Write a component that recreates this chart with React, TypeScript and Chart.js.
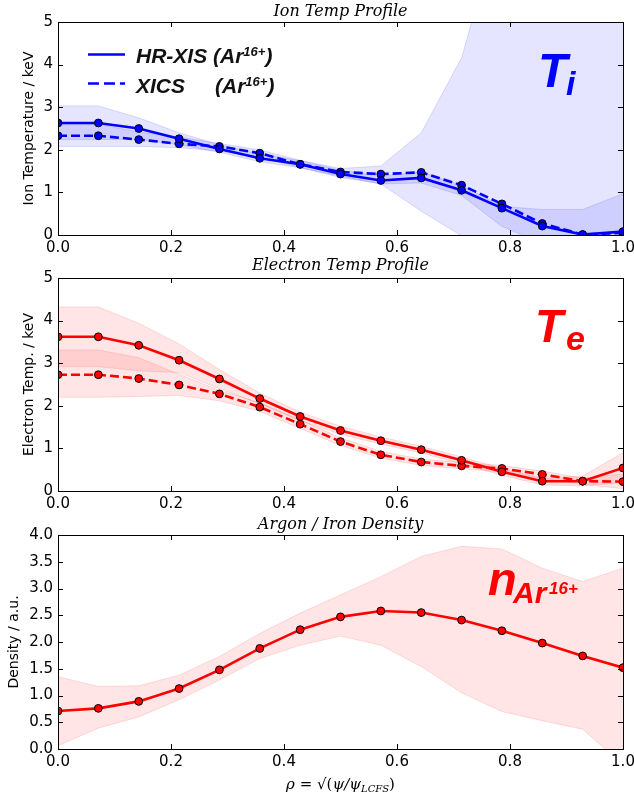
import React, { useEffect, useRef } from 'react';
import { Chart, registerables } from 'chart.js';

Chart.register(...registerables);

// ---------------- data ----------------
const rho = [0.0, 0.0714, 0.1429, 0.2143, 0.2857, 0.3571, 0.4286, 0.5, 0.5714, 0.6429, 0.7143, 0.7857, 0.8571, 0.9286, 1.0];

const tiHrxis = [2.63, 2.63, 2.50, 2.26, 2.02, 1.80, 1.66, 1.43, 1.28, 1.34, 1.05, 0.63, 0.21, 0.01, 0.08];
const tiXics = [2.33, 2.33, 2.24, 2.14, 2.08, 1.92, 1.66, 1.48, 1.43, 1.47, 1.17, 0.73, 0.27, 0.01, 0.05];
const tiHrUpper = [3.03, 3.03, 2.75, 2.40, 2.12, 1.90, 1.75, 1.52, 1.38, 1.48, 1.17, 0.67, 0.60, 0.60, 0.97];
const tiHrLower = [2.24, 2.24, 2.25, 2.12, 1.94, 1.72, 1.58, 1.35, 1.20, 1.22, 0.93, 0.20, -0.20, -0.50, -0.80];
const tiXcUpper = [2.60, 2.60, 2.42, 2.30, 2.15, 2.00, 1.75, 1.56, 1.62, 2.40, 4.16, 7.50, 9.00, 9.00, 9.00];
const tiXcLower = [2.08, 2.08, 2.08, 2.05, 1.97, 1.83, 1.58, 1.38, 1.20, 0.56, -0.02, -0.60, -1.00, -1.00, -1.00];

const teHrxis = [3.62, 3.62, 3.42, 3.07, 2.63, 2.17, 1.75, 1.42, 1.18, 0.97, 0.72, 0.45, 0.23, 0.23, 0.54];
const teXics = [2.73, 2.73, 2.64, 2.49, 2.28, 1.97, 1.57, 1.16, 0.85, 0.68, 0.59, 0.53, 0.39, 0.23, 0.22];
const teHrUpper = [4.32, 4.32, 3.94, 3.45, 2.85, 2.30, 1.85, 1.52, 1.27, 1.05, 0.80, 0.53, 0.30, 0.35, 0.90];
const teHrLower = [2.92, 2.92, 2.82, 2.78, 2.40, 2.05, 1.65, 1.33, 1.10, 0.89, 0.64, 0.37, 0.14, 0.12, 0.20];
const teXcUpper = [3.31, 3.31, 3.13, 2.74, 2.36, 2.07, 1.67, 1.25, 0.93, 0.75, 0.67, 0.60, 0.47, 0.30, 0.40];
const teXcLower = [2.20, 2.20, 2.22, 2.24, 2.12, 1.87, 1.47, 1.07, 0.77, 0.60, 0.52, 0.45, 0.30, 0.16, 0.05];

const nAr = [0.71, 0.76, 0.89, 1.13, 1.48, 1.88, 2.23, 2.47, 2.58, 2.55, 2.41, 2.21, 1.98, 1.74, 1.52];
const nArUpper = [1.35, 1.17, 1.18, 1.38, 1.73, 2.16, 2.54, 2.88, 3.22, 3.60, 3.79, 3.74, 3.38, 3.13, 3.38];
const nArLower = [0.06, 0.39, 0.60, 0.92, 1.29, 1.69, 1.94, 2.11, 1.94, 1.54, 1.05, 0.70, 0.53, 0.37, -0.30];

const xTicks = [0.0, 0.2, 0.4, 0.6, 0.8, 1.0];
const tempTicks = [0, 1, 2, 3, 4, 5];
const densTicks = [0.0, 0.5, 1.0, 1.5, 2.0, 2.5, 3.0, 3.5, 4.0];

// ---------------- styling helpers ----------------
const W = 634;
const BLUE = '#0000ff';
const RED = '#ff0000';
const BLUE_RGB = '0,0,255';
const RED_RGB = '255,0,0';
const TICK_FONT = { family: '"DejaVu Sans"', size: 15 };
const SERIF = '"DejaVu Serif"';
const BOLD_SANS = '"Liberation Sans"';

const pts = (ys: number[]) => rho.map((x, i) => ({ x, y: ys[i] }));

function lineDs(ys: number[], color: string, dashed: boolean) {
  return {
    data: pts(ys),
    borderColor: color,
    backgroundColor: color,
    borderWidth: 2.6,
    borderDash: dashed ? [9, 4] : [],
    pointRadius: 3.9,
    pointBackgroundColor: color,
    pointBorderColor: '#000',
    pointBorderWidth: 1,
    fill: false,
    tension: 0,
    clip: 0,
  };
}

function bandDs(up: number[], lo: number[], rgb: string) {
  return [
    {
      data: pts(up),
      borderColor: `rgba(${rgb},0.13)`,
      backgroundColor: `rgba(${rgb},0.1)`,
      borderWidth: 1,
      pointRadius: 0,
      fill: '+1',
      tension: 0,
      clip: 0,
    },
    {
      data: pts(lo),
      borderColor: `rgba(${rgb},0.13)`,
      backgroundColor: 'transparent',
      borderWidth: 1,
      pointRadius: 0,
      fill: false,
      tension: 0,
      clip: 0,
    },
  ];
}

type Spec = {
  top: number;
  height: number;
  padTop: number;
  xHeight: number;
  yMin: number;
  yMax: number;
  yTicks: number[];
  yFmt: (v: number) => string;
  yTitle: string;
  yTitleCenter: number;
  title: string;
  titleBaseline: number;
  datasets: any[];
  extra: (ctx: CanvasRenderingContext2D, chart: any, oy: number) => void;
};

function decorPlugin(spec: Spec) {
  return {
    id: 'decor',
    afterDraw(chart: any) {
      const { ctx, chartArea: a, scales } = chart;
      const oy = spec.top;
      ctx.save();
      // frame
      ctx.strokeStyle = '#000';
      ctx.lineWidth = 1;
      ctx.setLineDash([]);
      ctx.strokeRect(Math.round(a.left) + 0.5, Math.round(a.top) + 0.5, Math.round(a.right) - Math.round(a.left), Math.round(a.bottom) - Math.round(a.top));
      // inward ticks on all sides
      const TL = 5;
      ctx.beginPath();
      for (const t of scales.x.ticks) {
        const px = Math.round(scales.x.getPixelForValue(t.value)) + 0.5;
        ctx.moveTo(px, a.bottom);
        ctx.lineTo(px, a.bottom - TL);
        ctx.moveTo(px, a.top);
        ctx.lineTo(px, a.top + TL);
      }
      for (const t of scales.y.ticks) {
        const py = Math.round(scales.y.getPixelForValue(t.value)) + 0.5;
        ctx.moveTo(a.left, py);
        ctx.lineTo(a.left + TL, py);
        ctx.moveTo(a.right, py);
        ctx.lineTo(a.right - TL, py);
      }
      ctx.stroke();
      // title
      ctx.fillStyle = '#000';
      ctx.font = `italic 16px ${SERIF}`;
      ctx.textAlign = 'center';
      ctx.textBaseline = 'alphabetic';
      ctx.fillText(spec.title, (a.left + a.right) / 2, spec.titleBaseline - oy);
      ctx.textAlign = 'left';
      spec.extra(ctx, chart, oy);
      ctx.restore();
    },
  };
}

function buildConfig(spec: Spec): any {
  return {
    type: 'line',
    data: { datasets: spec.datasets },
    options: {
      responsive: false,
      animation: false,
      events: [],
      layout: { padding: { top: spec.padTop, right: 11, left: 0, bottom: 0 } },
      plugins: { legend: { display: false }, tooltip: { enabled: false }, title: { display: false } },
      scales: {
        x: {
          type: 'linear',
          min: 0,
          max: 1,
          afterBuildTicks: (s: any) => {
            s.ticks = xTicks.map((v) => ({ value: v }));
          },
          ticks: {
            callback: (v: number) => Number(v).toFixed(1),
            font: TICK_FONT,
            color: '#000',
            padding: 4,
            maxRotation: 0,
            autoSkip: false,
          },
          grid: { display: false, drawTicks: false },
          border: { display: false },
          afterFit: (s: any) => {
            s.height = spec.xHeight;
            s.paddingLeft = 0;
            s.paddingRight = 0;
          },
        },
        y: {
          type: 'linear',
          min: spec.yMin,
          max: spec.yMax,
          afterBuildTicks: (s: any) => {
            s.ticks = spec.yTicks.map((v) => ({ value: v }));
          },
          ticks: {
            callback: (v: number) => spec.yFmt(Number(v)),
            font: TICK_FONT,
            color: '#000',
            padding: 5,
            autoSkip: false,
          },
          grid: { display: false, drawTicks: false },
          border: { display: false },
          title: {
            display: true,
            text: spec.yTitle,
            color: '#000',
            font: { family: '"DejaVu Sans"', size: 14 },
            padding: { top: spec.yTitleCenter - 8.4, bottom: 0 },
          },
          afterFit: (s: any) => {
            s.width = 58;
            s.paddingTop = 0;
            s.paddingBottom = 0;
          },
        },
      },
    },
    plugins: [decorPlugin(spec)],
  };
}

function drawSubSup(ctx: CanvasRenderingContext2D, runs: { t: string; font: string; x?: number; y: number }[], x0: number) {
  let cx = x0;
  for (const r of runs) {
    ctx.font = r.font;
    if (r.x !== undefined) cx = r.x;
    ctx.fillText(r.t, cx, r.y);
    cx += ctx.measureText(r.t).width;
  }
  return cx;
}

// ---------------- panels ----------------
const spec1: Spec = {
  top: 0,
  height: 260,
  padTop: 22,
  xHeight: 25,
  yMin: 0,
  yMax: 5,
  yTicks: tempTicks,
  yFmt: (v) => String(Math.round(v)),
  yTitle: 'Ion Temperature / keV',
  yTitleCenter: 29,
  title: 'Ion Temp Profile',
  titleBaseline: 16,
  datasets: [
    lineDs(tiHrxis, BLUE, false),
    lineDs(tiXics, BLUE, true),
    ...bandDs(tiHrUpper, tiHrLower, BLUE_RGB),
    ...bandDs(tiXcUpper, tiXcLower, BLUE_RGB),
  ],
  extra: (ctx, chart, oy) => {
    // legend
    ctx.strokeStyle = BLUE;
    ctx.lineWidth = 2.6;
    ctx.setLineDash([]);
    ctx.beginPath();
    ctx.moveTo(88, 54.5 - oy);
    ctx.lineTo(125, 54.5 - oy);
    ctx.stroke();
    ctx.setLineDash([11, 5]);
    ctx.beginPath();
    ctx.moveTo(88, 83.5 - oy);
    ctx.lineTo(125, 83.5 - oy);
    ctx.stroke();
    ctx.setLineDash([]);
    ctx.fillStyle = '#111';
    const big = `italic bold 21px ${BOLD_SANS}`;
    const small = `italic bold 13px ${BOLD_SANS}`;
    ctx.font = big;
    const parX = 136 + ctx.measureText('HR-XIS ').width;
    drawSubSup(ctx, [
      { t: 'HR-XIS ', font: big, y: 63 - oy },
      { t: '(Ar', font: big, y: 63 - oy },
      { t: '16+', font: small, y: 56 - oy },
      { t: ')', font: big, y: 63 - oy },
    ], 136);
    drawSubSup(ctx, [
      { t: 'XICS', font: big, y: 93 - oy },
      { t: '(Ar', font: big, x: parX + 2, y: 93 - oy },
      { t: '16+', font: small, y: 86 - oy },
      { t: ')', font: big, y: 93 - oy },
    ], 136);
    // T_i label
    ctx.fillStyle = BLUE;
    ctx.font = `italic bold 48px ${BOLD_SANS}`;
    ctx.fillText('T', 538, 87 - oy);
    ctx.font = `italic bold 34px ${BOLD_SANS}`;
    ctx.fillText('i', 566, 95 - oy);
  },
};

const spec2: Spec = {
  top: 250,
  height: 264,
  padTop: 28,
  xHeight: 23,
  yMin: 0,
  yMax: 5,
  yTicks: tempTicks,
  yFmt: (v) => String(Math.round(v)),
  yTitle: 'Electron Temp. / keV',
  yTitleCenter: 29,
  title: 'Electron Temp Profile',
  titleBaseline: 270,
  datasets: [
    lineDs(teHrxis, RED, false),
    lineDs(teXics, RED, true),
    ...bandDs(teHrUpper, teHrLower, RED_RGB),
    ...bandDs(teXcUpper, teXcLower, RED_RGB),
  ],
  extra: (ctx, chart, oy) => {
    ctx.fillStyle = RED;
    ctx.font = `italic bold 46px ${BOLD_SANS}`;
    ctx.fillText('T', 535, 342 - oy);
    ctx.font = `italic bold 34px ${BOLD_SANS}`;
    ctx.fillText('e', 566, 350 - oy);
  },
};

const spec3: Spec = {
  top: 505,
  height: 293,
  padTop: 30,
  xHeight: 49,
  yMin: 0,
  yMax: 4,
  yTicks: densTicks,
  yFmt: (v) => v.toFixed(1),
  yTitle: 'Density / a.u.',
  yTitleCenter: 14,
  title: 'Argon / Iron Density',
  titleBaseline: 529,
  datasets: [lineDs(nAr, RED, false), ...bandDs(nArUpper, nArLower, RED_RGB)],
  extra: (ctx, chart, oy) => {
    // n_{Ar^{16+}} label
    ctx.fillStyle = RED;
    ctx.font = `italic bold 47px ${BOLD_SANS}`;
    ctx.fillText('n', 488, 595 - oy);
    ctx.font = `italic bold 30px ${BOLD_SANS}`;
    ctx.fillText('Ar', 513, 603 - oy);
    ctx.font = `italic bold 17px ${BOLD_SANS}`;
    ctx.fillText('16+', 549, 594 - oy);
    // x-axis title
    ctx.fillStyle = '#000';
    const it = `italic 15px ${SERIF}`;
    const rm = `15px ${SERIF}`;
    const sub = `italic 10px ${SERIF}`;
    const runs = [
      { t: 'ρ', font: it },
      { t: ' = ', font: rm },
      { t: '√', font: `15px "DejaVu Sans"` },
      { t: '(', font: rm },
      { t: 'ψ/ψ', font: it },
      { t: 'LCFS', font: sub, sub: true },
      { t: ')', font: rm },
    ];
    let total = 0;
    for (const r of runs) {
      ctx.font = r.font;
      total += ctx.measureText(r.t).width;
    }
    const a = chart.chartArea;
    const start = (a.left + a.right) / 2 - total / 2;
    const base = 789 - oy;
    drawSubSup(
      ctx,
      runs.map((r: any) => ({ t: r.t, font: r.font, y: r.sub ? base + 3 : base })),
      start
    );
  },
};

function Panel({ spec }: { spec: Spec }) {
  const ref = useRef<HTMLCanvasElement>(null);
  useEffect(() => {
    const chart = new Chart(ref.current as HTMLCanvasElement, buildConfig(spec));
    return () => chart.destroy();
  }, []);
  return (
    <canvas
      ref={ref}
      width={W}
      height={spec.height}
      style={{ position: 'absolute', left: 0, top: spec.top, width: W, height: spec.height }}
    />
  );
}

export default function App() {
  return (
    <div style={{ position: 'absolute', left: 0, top: 0, width: W, height: 798, background: '#fff', overflow: 'hidden' }}>
      <Panel spec={spec1} />
      <Panel spec={spec2} />
      <Panel spec={spec3} />
    </div>
  );
}
